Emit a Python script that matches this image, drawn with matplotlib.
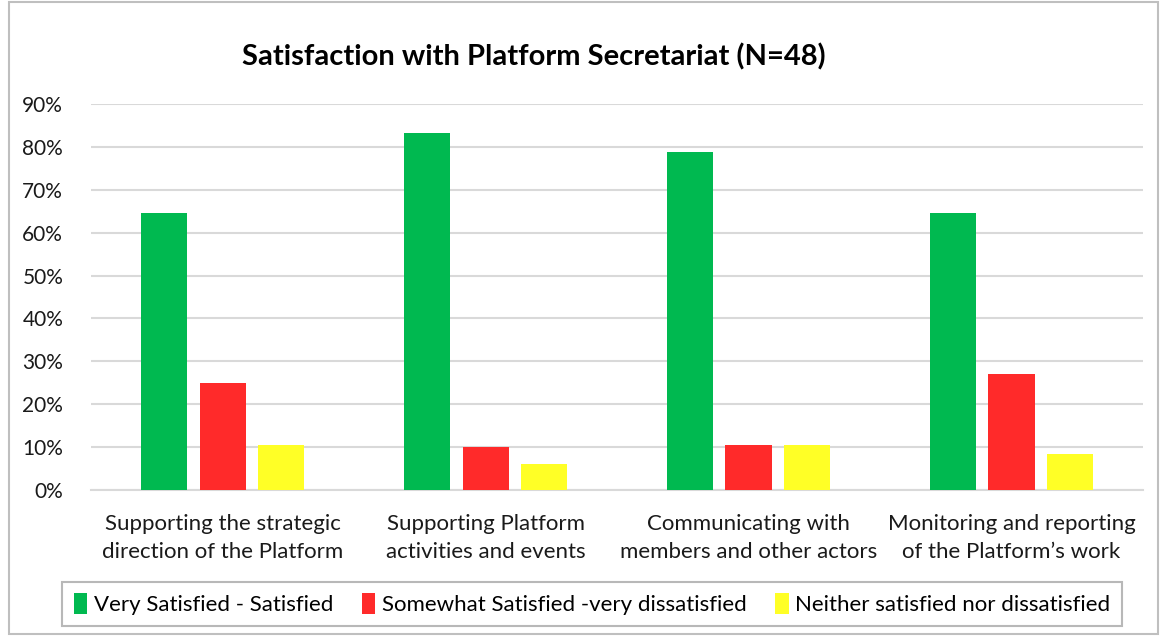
import numpy as np
import matplotlib.pyplot as plt
from matplotlib.patches import Rectangle
from matplotlib.ticker import PercentFormatter

plt.rcParams['font.family'] = ['Lato', 'DejaVu Sans']

categories = ['Supporting the strategic\ndirection of the Platform',
              'Supporting Platform\nactivities and events',
              'Communicating with\nmembers and other actors',
              "Monitoring and reporting\nof the Platform\u2019s work"]
series_names = ['Very Satisfied - Satisfied',
                'Somewhat Satisfied -very dissatisfied',
                'Neither satisfied nor dissatisfied']
very_satisfied = [64.6, 83.3, 78.7, 64.6]
somewhat_dissatisfied = [25.0, 10.0, 10.6, 27.1]
neither = [10.4, 6.1, 10.5, 8.3]
colors = ['#00B950', '#FF2A2A', '#FFFF26']

fig = plt.figure(figsize=(11.61, 6.36), dpi=100)
ax = fig.add_axes([0.0784, 0.2296, 0.9061, 0.6069])

x = np.arange(len(categories))
step = 0.222
width = 0.175
for i, (vals, name, c) in enumerate(zip([very_satisfied, somewhat_dissatisfied, neither],
                                        series_names, colors)):
    ax.bar(x + (i - 1) * step, vals, width, color=c, label=name, zorder=3)

ax.set_xlim(-0.5, len(categories) - 0.5)
ax.set_ylim(0, 90)
ax.set_yticks(range(0, 91, 10))
ax.yaxis.set_major_formatter(PercentFormatter(decimals=0))
ax.grid(axis='y', color='#D9D9D9', linewidth=1.5, zorder=0)
ax.set_xticks(x)
ax.set_xticklabels(categories, fontsize=16, color='#1a1a1a', linespacing=1.5)
ax.tick_params(axis='y', labelsize=15, colors='#1a1a1a', length=0, pad=20)
ax.tick_params(axis='x', length=0, pad=17)
for s in ['top', 'right', 'left']:
    ax.spines[s].set_visible(False)
ax.spines['bottom'].set_color('#D9D9D9')
ax.spines['bottom'].set_linewidth(1.5)

fig.text(0.46, 0.91, 'Satisfaction with Platform Secretariat (N=48)',
         ha='center', va='center', fontsize=21, fontweight='bold')

leg = fig.legend(loc='center', bbox_to_anchor=(0.51, 0.05), ncol=3, fontsize=16,
                 frameon=True, fancybox=False, edgecolor='#A6A6A6',
                 handlelength=0.6, handleheight=1.1, handletextpad=0.3,
                 columnspacing=1.3, borderpad=0.5)
leg.get_frame().set_linewidth(1.5)

fig.patches.append(Rectangle((9 / 1161, 2 / 636), 1149 / 1161, 632 / 636,
                             transform=fig.transFigure, fill=False,
                             edgecolor='#BFBFBF', linewidth=1.5))

plt.savefig('out.png', dpi=100)
